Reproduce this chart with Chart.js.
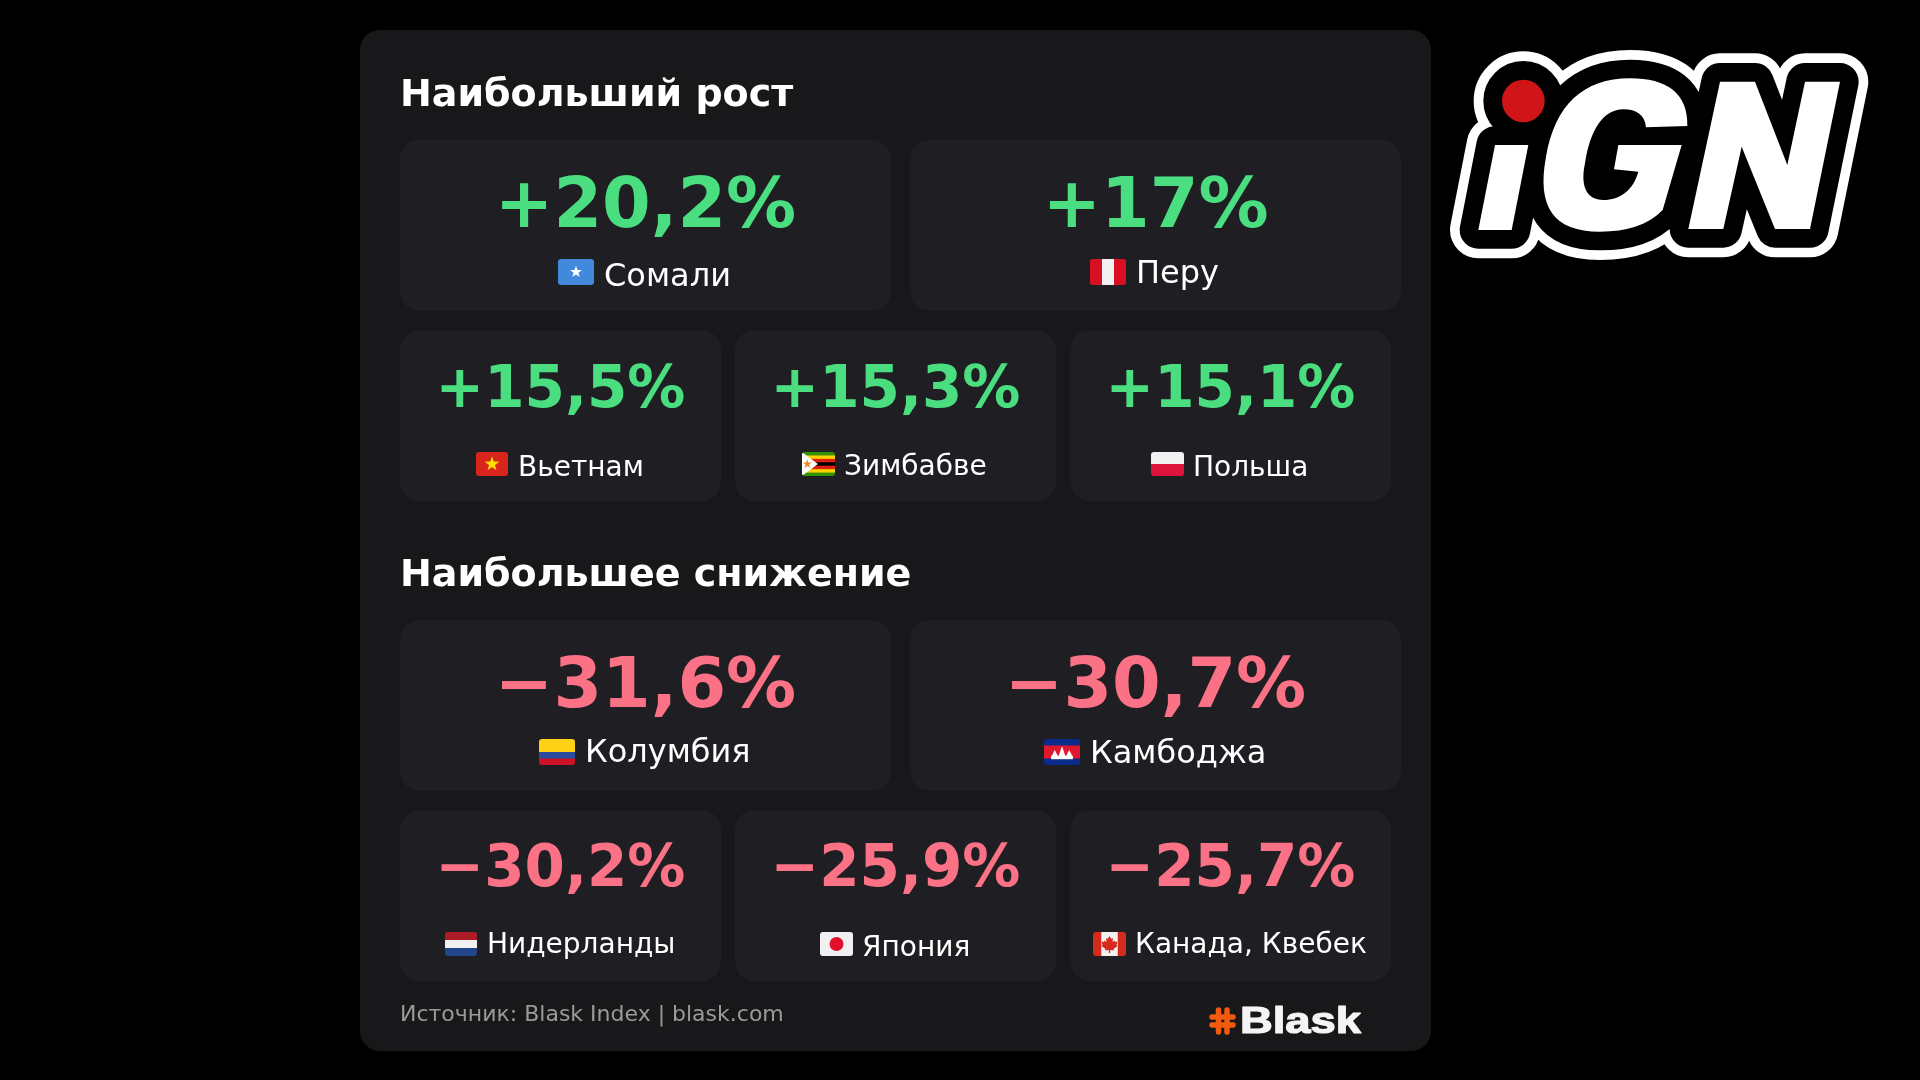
<!DOCTYPE html>
<html lang="ru"><head><meta charset="utf-8">
<style>html,body{margin:0;padding:0;background:#000;width:1920px;height:1080px;overflow:hidden}canvas{display:block}</style>
<script src="https://cdn.jsdelivr.net/npm/chart.js@4"></script></head>
<body><canvas id="c" width="1920" height="1080"></canvas>
<script>
const growthTitle = 'Наибольший рост';
const declineTitle = 'Наибольшее снижение';
const growthCountries = ['Сомали','Перу','Вьетнам','Зимбабве','Польша'];
const growthValues = [20.2,17,15.5,15.3,15.1];
const growthFlags = ['so','pe','vn','zw','pl'];
const declineCountries = ['Колумбия','Камбоджа','Нидерланды','Япония','Канада, Квебек'];
const declineValues = [-31.6,-30.7,-30.2,-25.9,-25.7];
const declineFlags = ['co','kh','nl','jp','ca'];
const sourceText = 'Источник: Blask Index | blask.com';

// layout: [x0,x1,y0,y1, valueBaseline, flagX, flagW, flagY, flagH, textX, textBaseline]
const growthLayout = [
 [400,891,139.5,311,226.5,558,36,259,26,604,286],
 [910,1401,139.5,311,226.5,1090,36,259,26,1136,283],
 [400,721,330,501,406.5,476,32,452,24,518,476],
 [735,1056,330,501,406.5,802,33,452,24,844,475],
 [1070,1391,330,501,406.5,1151,33,452,24,1193,476]
];
const declineLayout = [
 [400,891,620,791,706.5,539,36,739,26,585,762],
 [910,1401,620,791,706.5,1044,36,739,26,1090,763],
 [400,721,810,981,885.5,445,32,932,24,487,953],
 [735,1056,810,981,885.5,820,33,932,24,862,956],
 [1070,1391,810,981,885.5,1093,33,932,24,1135,953]
];
const C = {panel:'#18181a',card:'#1f1f23',green:'#4ade80',red:'#fb7185',muted:'#9a9a9a'};
const F = '"DejaVu Sans"';

function fmt(v){const s=Math.abs(v).toString().replace('.',',');return (v>=0?'+':'\u2212')+s+'%';}
function rr(ctx,x,y,w,h,r){ctx.beginPath();ctx.roundRect(x,y,w,h,r);}
function star(ctx,cx,cy,r,col){ctx.fillStyle=col;ctx.beginPath();for(let i=0;i<10;i++){const a=-Math.PI/2+i*Math.PI/5,q=i%2?r*0.4:r;ctx.lineTo(cx+q*Math.cos(a),cy+q*Math.sin(a));}ctx.closePath();ctx.fill();}
function stripesH(ctx,x,y,w,h,list){let t=y;const sum=list.reduce((a,b)=>a+b[1],0);list.forEach(s=>{const hh=h*s[1]/sum;ctx.fillStyle=s[0];ctx.fillRect(x,t,w,hh+0.5);t+=hh;});}
function stripesV(ctx,x,y,w,h,list){let t=x;const sum=list.reduce((a,b)=>a+b[1],0);list.forEach(s=>{const ww=w*s[1]/sum;ctx.fillStyle=s[0];ctx.fillRect(t,y,ww+0.5,h);t+=ww;});}
function flag(ctx,code,x,y,w,h){
  ctx.save();rr(ctx,x,y,w,h,3);ctx.clip();
  const cx=x+w/2,cy=y+h/2;
  if(code==='so'){ctx.fillStyle='#4189dd';ctx.fillRect(x,y,w,h);star(ctx,cx,cy,h*0.24,'#fff');}
  if(code==='pe'){stripesV(ctx,x,y,w,h,[['#d91023',1],['#f1f1f1',1],['#d91023',1]]);}
  if(code==='vn'){ctx.fillStyle='#da251d';ctx.fillRect(x,y,w,h);star(ctx,cx,cy,h*0.32,'#ffe000');}
  if(code==='pl'){stripesH(ctx,x,y,w,h,[['#f1f1f1',1],['#dc143c',1]]);}
  if(code==='co'){stripesH(ctx,x,y,w,h,[['#fcd116',2],['#2a4a9c',1],['#ce1126',1]]);}
  if(code==='nl'){stripesH(ctx,x,y,w,h,[['#ae1c28',1],['#f1f1f1',1],['#21468b',1]]);}
  if(code==='jp'){ctx.fillStyle='#f1f1f1';ctx.fillRect(x,y,w,h);ctx.fillStyle='#e0102c';ctx.beginPath();ctx.arc(cx,cy,h*0.29,0,7);ctx.fill();}
  if(code==='ca'){stripesV(ctx,x,y,w,h,[['#d52b1e',1],['#f1f1f1',2],['#d52b1e',1]]);
    ctx.fillStyle='#d52b1e';ctx.beginPath();const u=h/24;
    [[0,-8],[2,-5],[3.5,-6],[3,-2],[5,-3.5],[5.5,-2],[8,-2.5],[7,1],[8,2],[4,5],[4.5,6.5],[0.7,6],[0.7,9],[-0.7,9],[-0.7,6],[-4.5,6.5],[-4,5],[-8,2],[-7,1],[-8,-2.5],[-5.5,-2],[-5,-3.5],[-3,-2],[-3.5,-6],[-2,-5]].forEach(p=>ctx.lineTo(cx+p[0]*u,cy+p[1]*u));
    ctx.closePath();ctx.fill();}
  if(code==='kh'){stripesH(ctx,x,y,w,h,[['#0a2a8c',1],['#e0182d',2],['#0a2a8c',1]]);
    ctx.fillStyle='#fff';const b=cy+h*0.22;
    ctx.fillRect(cx-w*0.3,b-2,w*0.6,3.5);
    [[-0.2,0.3],[0,0.44],[0.2,0.3]].forEach(p=>{const px=cx+p[0]*w,t=p[1]*h;ctx.beginPath();ctx.moveTo(px-w*0.11,b);ctx.lineTo(px,b-t);ctx.lineTo(px+w*0.11,b);ctx.fill();});}
  if(code==='zw'){stripesH(ctx,x,y,w,h,[['#319208',1],['#ffd200',1],['#de2010',1],['#000',1],['#de2010',1],['#ffd200',1],['#319208',1]]);
    ctx.fillStyle='#fff';ctx.beginPath();ctx.moveTo(x,y);ctx.lineTo(x+w*0.48,cy);ctx.lineTo(x,y+h);ctx.fill();
    star(ctx,x+w*0.16,cy,h*0.2,'#ef8a1f');}
  ctx.restore();
}
function ign(ctx){
  const iP=()=>{ctx.moveTo(165,345);ctx.lineTo(265,345);ctx.lineTo(215,600);ctx.lineTo(115,600);ctx.closePath();};
  const dotP=()=>{ctx.moveTo(314,213);ctx.arc(250,213,64,0,Math.PI*2);};
  const gOuter=()=>{ctx.moveTo(742,288);ctx.bezierCurveTo(745,190,680,145,570,145);ctx.bezierCurveTo(430,145,345,225,318,380);ctx.bezierCurveTo(290,530,340,605,480,605);ctx.bezierCurveTo(560,605,625,585,668,540);ctx.lineTo(725,345);ctx.lineTo(640,330);ctx.closePath();};
  const nP=()=>{ctx.moveTo(840,155);ctx.lineTo(945,155);ctx.lineTo(1042,405);ctx.lineTo(1095,155);ctx.lineTo(1200,155);ctx.lineTo(1110,597);ctx.lineTo(1005,597);ctx.lineTo(905,350);ctx.lineTo(850,597);ctx.lineTo(745,597);ctx.closePath();};
  ctx.save();ctx.translate(1440,30);ctx.scale(1/3,1/3);ctx.lineJoin='round';ctx.lineCap='round';
  const sil=()=>{ctx.beginPath();iP();dotP();gOuter();nP();};
  sil();ctx.strokeStyle='#fff';ctx.lineWidth=170;ctx.stroke();ctx.fillStyle='#fff';ctx.fill();
  sil();ctx.strokeStyle='#000';ctx.lineWidth=112;ctx.stroke();ctx.fillStyle='#000';ctx.fill();
  ctx.fillStyle='#fff';
  ctx.beginPath();iP();gOuter();nP();ctx.fill();
  ctx.fillStyle='#000';ctx.beginPath();
  ctx.moveTo(742,288);ctx.lineTo(618,292);ctx.bezierCurveTo(615,255,590,238,550,238);ctx.bezierCurveTo(490,238,450,300,435,400);ctx.bezierCurveTo(420,470,440,510,490,510);ctx.bezierCurveTo(540,510,580,480,595,425);ctx.lineTo(522,418);ctx.lineTo(535,345);ctx.lineTo(725,345);ctx.closePath();ctx.fill();
  ctx.fillStyle='#cf1518';ctx.beginPath();dotP();ctx.fill();
  ctx.restore();
}
function blask(ctx){
  ctx.save();ctx.strokeStyle='#f25a0f';ctx.lineWidth=5.5;ctx.lineCap='round';
  const x=1211,y=1009,w=23,h=24;
  ctx.beginPath();
  ctx.moveTo(x+7.5,y+1);ctx.lineTo(x+7.5,y+h-1);ctx.moveTo(x+16,y+1);ctx.lineTo(x+16,y+h-1);
  ctx.moveTo(x+1,y+8);ctx.lineTo(x+w-1,y+8);ctx.moveTo(x+1,y+16);ctx.lineTo(x+w-1,y+16);
  ctx.stroke();ctx.restore();
  ctx.save();ctx.translate(1240,1033);ctx.scale(1.26,1);ctx.fillStyle='#f5f5f5';ctx.strokeStyle='#f5f5f5';ctx.lineWidth=1.2;ctx.lineJoin='round';ctx.font='bold 36px "Liberation Sans"';ctx.textAlign='left';ctx.textBaseline='alphabetic';ctx.fillText('Blask',0,0);ctx.strokeText('Blask',0,0);ctx.restore();
}
const cardsPlugin={id:'cards',
  beforeDatasetsDraw(chart){
    const ctx=chart.ctx;
    ctx.save();
    ctx.fillStyle='#000';ctx.fillRect(0,0,1920,1080);
    ctx.fillStyle=C.panel;rr(ctx,360,30,1071,1021,20);ctx.fill();
    ctx.textBaseline='alphabetic';
    ctx.fillStyle='#fff';ctx.textAlign='left';ctx.font='bold 38px '+F;
    ctx.fillText(growthTitle,400,106);
    ctx.fillText(declineTitle,400,586);
    chart.data.datasets.forEach((ds,di)=>{
      const meta=chart.getDatasetMeta(di);
      meta.data.forEach((el,i)=>{
        const L=ds.cardLayout[i],big=i<2;
        const hw=(L[1]-L[0])/2,hh=(L[3]-L[2])/2;
        ctx.fillStyle=C.card;rr(ctx,el.x-hw,el.y-hh,hw*2,hh*2,20);ctx.fill();
        ctx.fillStyle=ds.textColor;ctx.textAlign='center';ctx.font='bold '+(big?70:58)+'px '+F;
        ctx.fillText(fmt(ds.values[i]),el.x,L[4]);
        flag(ctx,ds.flags[i],L[5],L[7],L[6],L[8]);
        ctx.fillStyle='#fff';ctx.textAlign='left';ctx.font=(big?32:28)+'px '+F;
        ctx.fillText(ds.names[i],L[9],L[10]);
      });
    });
    ctx.fillStyle=C.muted;ctx.textAlign='left';ctx.font='22px '+F;
    ctx.fillText(sourceText,400,1021);
    blask(ctx);ign(ctx);
    ctx.restore();
  }
};
const centers=l=>l.map(L=>({x:(L[0]+L[1])/2,y:(L[2]+L[3])/2}));
new Chart(document.getElementById('c'),{
  type:'scatter',
  data:{datasets:[
    {label:growthTitle,data:centers(growthLayout),values:growthValues,names:growthCountries,flags:growthFlags,cardLayout:growthLayout,textColor:C.green,pointRadius:0},
    {label:declineTitle,data:centers(declineLayout),values:declineValues,names:declineCountries,flags:declineFlags,cardLayout:declineLayout,textColor:C.red,pointRadius:0}
  ]},
  options:{responsive:false,devicePixelRatio:1,animation:false,layout:{padding:0},
    plugins:{legend:{display:false},tooltip:{enabled:false},title:{display:false}},
    scales:{x:{type:'linear',display:false,min:0,max:1920},y:{type:'linear',display:false,min:0,max:1080,reverse:true}}},
  plugins:[cardsPlugin]
});
</script></body></html>
